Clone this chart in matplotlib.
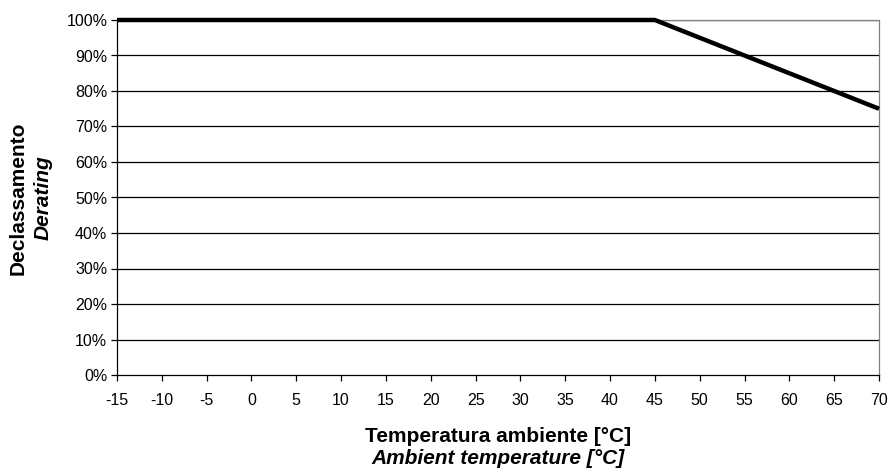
import matplotlib.pyplot as plt
from matplotlib.ticker import PercentFormatter

plt.rcParams['font.family'] = ['Liberation Sans', 'DejaVu Sans']
plt.rcParams['axes.unicode_minus'] = False

temp = [-15, 45, 70]
derating = [100, 100, 75]
xticks = list(range(-15, 75, 5))
yticks = list(range(0, 110, 10))

fig = plt.figure(figsize=(8.91, 4.73), dpi=100)
ax = fig.add_axes((117/891, 1-375/473, (879-117)/891, (375-20)/473))

for y in yticks[1:]:
    ax.axhline(y, color='black', lw=0.9, zorder=1)
ax.plot(temp, derating, color='black', lw=3.2, solid_capstyle='butt', zorder=3, clip_on=False)

ax.set_xlim(-15, 70)
ax.set_ylim(0, 100)
ax.set_xticks(xticks)
ax.set_yticks(yticks)
ax.yaxis.set_major_formatter(PercentFormatter(decimals=0))
ax.tick_params(direction='out', length=4, width=0.9, labelsize=11.5, color='black')
ax.tick_params(axis='x', pad=9)
ax.tick_params(axis='y', pad=3)
ax.spines['left'].set_color('black')
ax.spines['bottom'].set_color('black')
ax.spines['top'].set_color('#808080')
ax.spines['right'].set_color('#808080')
for s in ax.spines.values():
    s.set_linewidth(0.9)

fig.text(498/891, 1-436/473, 'Temperatura ambiente [°C]', ha='center', va='center',
         fontsize=15, fontweight='bold')
fig.text(498/891, 1-458/473, 'Ambient temperature [°C]', ha='center', va='center',
         fontsize=15, fontweight='bold', style='italic')
fig.text(18/891, 1-198/473, 'Declassamento', ha='center', va='center', rotation=90,
         fontsize=15, fontweight='bold')
fig.text(43/891, 1-198/473, 'Derating', ha='center', va='center', rotation=90,
         fontsize=15, fontweight='bold', style='italic')

fig.savefig('out.png', dpi=100)
